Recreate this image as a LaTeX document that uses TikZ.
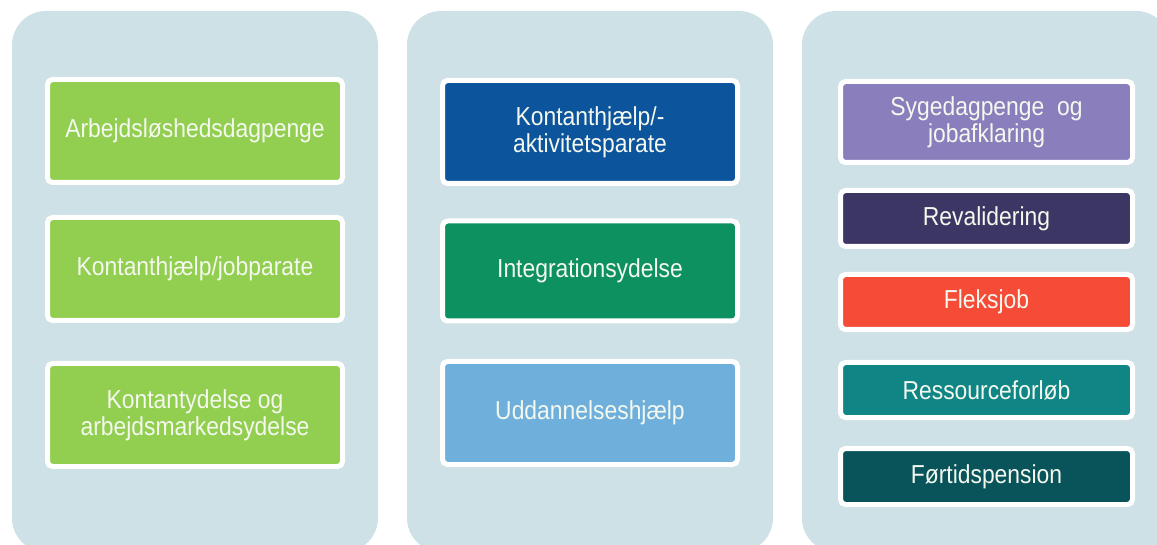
\documentclass[tikz,border=0pt]{standalone}
\usepackage{fontspec}
\setmainfont[FakeStretch=0.88]{Liberation Sans}
\usepackage{tikz}

\definecolor{panelblue}{RGB}{205,225,230}
\definecolor{lightgreen}{RGB}{146,206,80}
\definecolor{darkblue}{RGB}{12,84,156}
\definecolor{midgreen}{RGB}{14,145,96}
\definecolor{skyblue}{RGB}{110,176,219}
\definecolor{lavender}{RGB}{138,127,188}
\definecolor{darkpurple}{RGB}{60,54,100}
\definecolor{tomato}{RGB}{245,75,55}
\definecolor{teal}{RGB}{15,133,133}
\definecolor{darkteal}{RGB}{8,84,90}
\definecolor{softwhite}{RGB}{244,248,238}

\tikzset{
    panel/.style={fill=panelblue, rounded corners=34pt},
    ydelse/.style={draw=white, line width=5pt, rounded corners=5pt, inner sep=0pt,
        align=center, text=softwhite, font=\fontsize{26}{27}\selectfont},
    leftbox/.style={ydelse, minimum width=295pt, minimum height=103pt},
    rightbox/.style={ydelse, minimum width=292pt}
}

\begin{document}
\begin{tikzpicture}[x=1pt, y=-1pt]
    \useasboundingbox (0,0) rectangle (1157,545);
    \fill[panel] (12,11) rectangle (378,552);
    \fill[panel] (407,11) rectangle (773,552);
    \fill[panel] (802,11) rectangle (1170,552);

    \node[leftbox, fill=lightgreen] (dagpenge) at (195,131) {Arbejdsløshedsdagpenge};
    \node[leftbox, fill=lightgreen] (jobparate) at (195,269) {Kontanthjælp/jobparate};
    \node[leftbox, fill=lightgreen] (kontantydelse) at (195,415) {Kontantydelse og\\arbejdsmarkedsydelse};

    \node[leftbox, fill=darkblue] (aktivitetsparate) at (590,132) {Kontanthjælp/-\\aktivitetsparate};
    \node[leftbox, fill=midgreen, minimum height=100pt] (integration) at (590,271) {Integrationsydelse};
    \node[leftbox, fill=skyblue] (uddannelse) at (590,413) {Uddannelseshjælp};

    \node[rightbox, fill=lavender, minimum height=81pt] (sygedagpenge) at (986.5,122) {Sygedagpenge\ \ og\\jobafklaring};
    \node[rightbox, fill=darkpurple, minimum height=56pt] (revalidering) at (986.5,218.5) {Revalidering};
    \node[rightbox, fill=tomato, minimum height=55pt] (fleksjob) at (986.5,302) {Fleksjob};
    \node[rightbox, fill=teal, minimum height=55pt] (ressource) at (986.5,390) {Ressourceforløb};
    \node[rightbox, fill=darkteal, minimum height=56pt] (foertid) at (986.5,476.5) {Førtidspension};
\end{tikzpicture}
\end{document}
